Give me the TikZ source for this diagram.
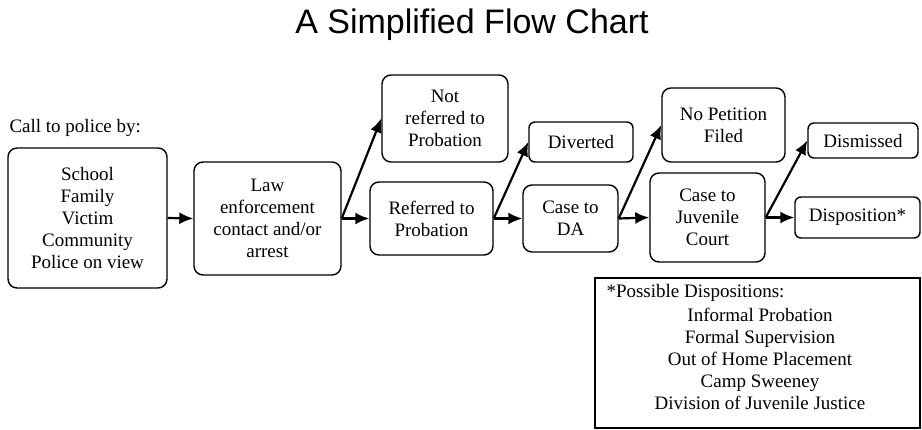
\documentclass[tikz,border=0pt]{standalone}
\usepackage{fontspec}
\setmainfont{Liberation Serif}
\newfontfamily\titlefont{Liberation Sans}
\usepackage{tikz}
\usetikzlibrary{arrows.meta}

\tikzset{
  stage/.style={draw,line width=1.4pt,rounded corners=9pt,align=center,inner sep=0pt,
    font=\fontsize{19}{22}\selectfont},
  flow/.style={line width=2.2pt,-{Latex[length=14pt,width=12pt]}}
}

\begin{document}
\begin{tikzpicture}[x=1pt,y=-1pt]
  \useasboundingbox (0,0) rectangle (922,429);
  \node[font=\titlefont\fontsize{34}{40}\selectfont] (title) at (472,25) {A Simplified Flow Chart};
  \node[anchor=west,font=\fontsize{19}{22}\selectfont] (callby) at (6,128) {Call to police by:};
  % main line
  \node[stage,minimum width=159pt,minimum height=140pt] (caller) at (87.5,218) {School\\Family\\Victim\\Community\\Police on view};
  \node[stage,minimum width=147pt,minimum height=113pt] (law) at (267.5,218.5) {Law\\enforcement\\contact and/or\\arrest};
  \node[stage,minimum width=123pt,minimum height=73pt] (refd) at (431.5,218.5) {Referred to\\Probation};
  \node[stage,minimum width=95pt,minimum height=67pt] (da) at (570.5,218.5) {Case to\\DA};
  \node[stage,minimum width=115pt,minimum height=89pt] (court) at (707.5,217.5) {Case to\\Juvenile\\Court};
  \node[stage,rounded corners=6pt,minimum width=125pt,minimum height=41pt] (dispo) at (857.5,217.5) {Disposition*};
  % side exits
  \node[stage,minimum width=126pt,minimum height=87pt] (notref) at (445,118.5) {Not\\referred to\\Probation};
  \node[stage,rounded corners=6pt,minimum width=104pt,minimum height=40pt] (divert) at (581,142) {Diverted};
  \node[stage,minimum width=123pt,minimum height=74pt] (nopet) at (723.5,125) {No Petition\\Filed};
  \node[stage,rounded corners=6pt,minimum width=110pt,minimum height=35pt] (dismiss) at (863,140.5) {Dismissed};
  \foreach \a/\b in {caller/law,law/refd,refd/da,da/court,court/dispo,law/notref,refd/divert,da/nopet,court/dismiss}
    \draw[flow] (\a.east) -- (\b.west);
  % legend
  \node[draw,line width=1.4pt,minimum width=325pt,minimum height=150pt,inner sep=0pt] (legend) at (757.5,353) {};
  \node[anchor=west,font=\fontsize{19}{22}\selectfont] (legtitle) at (603,293) {*Possible Dispositions:};
  \node[anchor=north,align=center,font=\fontsize{19}{22}\selectfont] (leglist) at (760,305)
    {Informal Probation\\Formal Supervision\\Out of Home Placement\\Camp Sweeney\\Division of Juvenile Justice};
\end{tikzpicture}
\end{document}
